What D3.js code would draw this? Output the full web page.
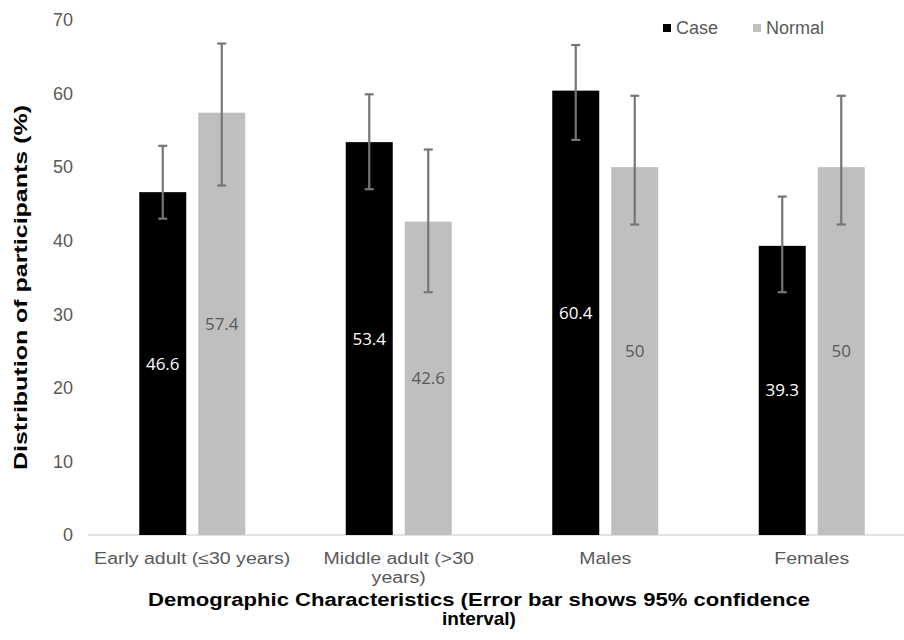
<!DOCTYPE html>
<html>
<head>
<meta charset="utf-8">
<script src="https://cdn.jsdelivr.net/npm/d3@7"></script>
<style>
  body { margin: 0; background: #fff; }
  svg { font-family: "Liberation Sans", Arial, sans-serif; }
</style>
</head>
<body>
<div id="chart"></div>
<script>
var categories = ['Early adult (≤30 years)', 'Middle adult (>30 years)', 'Males', 'Females'];
var series = ['Case', 'Normal'];
var caseValues = [46.6, 53.4, 60.4, 39.3];
var normalValues = [57.4, 42.6, 50, 50];
var caseLow = [43, 47, 53.7, 33];
var caseHigh = [52.9, 59.9, 66.6, 46];
var normalLow = [47.5, 33, 42.2, 42.2];
var normalHigh = [66.8, 52.4, 59.7, 59.7];
var valueLabels = [['46.6', '53.4', '60.4', '39.3'], ['57.4', '42.6', '50', '50']];
var yTicks = [0, 10, 20, 30, 40, 50, 60, 70];

var width = 904;
var height = 640;
var color = d3.scaleOrdinal().domain(series).range(['#000000', '#bfbfbf']);

var svg = d3.select('#chart')
    .append('svg')
    .attr('width', width)
    .attr('height', height);

var x = d3.scaleBand()
    .domain(categories)
    .range([89, 915])
    .paddingInner(0)
    .paddingOuter(0);

var y = d3.scaleLinear()
    .domain([0, 70])
    .range([535, 20]);

var barW = 47;
var gap = 12;

// one row per bar
var rows = [];
categories.forEach(function (c, i) {
    rows.push({cat: c, s: 'Case', si: 0, v: caseValues[i], lo: caseLow[i], hi: caseHigh[i], label: valueLabels[0][i]});
    rows.push({cat: c, s: 'Normal', si: 1, v: normalValues[i], lo: normalLow[i], hi: normalHigh[i], label: valueLabels[1][i]});
});

function barX(d) {
    var c = x(d.cat) + x.bandwidth() / 2;
    return d.si === 0 ? c - gap / 2 - barW : c + gap / 2;
}

// y axis labels
var yAxis = svg.append('g')
    .attr('transform', 'translate(73,0)')
    .call(d3.axisLeft(y).tickValues(yTicks).tickSize(0).tickPadding(0));
yAxis.select('.domain').remove();
yAxis.selectAll('text')
    .attr('fill', '#595959')
    .style('font-size', '18px')
    .style('font-family', '"Liberation Sans", Arial, sans-serif');

// baseline
svg.append('line')
    .attr('x1', 88).attr('x2', 904)
    .attr('y1', y(0)).attr('y2', y(0))
    .attr('stroke', '#d9d9d9')
    .attr('stroke-width', 1.5);

// bars
svg.selectAll('rect.bar')
    .data(rows)
    .enter()
    .append('rect')
    .attr('class', 'bar')
    .attr('x', barX)
    .attr('width', barW)
    .attr('y', function (d) { return y(d.v); })
    .attr('height', function (d) { return y(0) - y(d.v); })
    .attr('fill', function (d) { return color(d.s); });

// value labels in the middle of each bar
svg.selectAll('text.val')
    .data(rows)
    .enter()
    .append('text')
    .attr('class', 'val')
    .attr('x', function (d) { return barX(d) + barW / 2; })
    .attr('y', function (d) { return (y(0) + y(d.v)) / 2; })
    .attr('dy', '0.35em')
    .attr('text-anchor', 'middle')
    .style('font-family', '"Liberation Sans Narrow", "Open Sans", Arial, sans-serif')
    .style('font-size', '17px')
    .attr('fill', function (d) { return d.si === 0 ? '#ffffff' : '#595959'; })
    .text(function (d) { return d.label; });

// error bars
var err = svg.selectAll('g.err')
    .data(rows)
    .enter()
    .append('g')
    .attr('class', 'err')
    .attr('stroke', '#767676')
    .attr('stroke-width', 2.2);

err.append('line')
    .attr('x1', function (d) { return barX(d) + barW / 2; })
    .attr('x2', function (d) { return barX(d) + barW / 2; })
    .attr('y1', function (d) { return y(d.lo); })
    .attr('y2', function (d) { return y(d.hi); });

err.append('line')
    .attr('x1', function (d) { return barX(d) + barW / 2 - 4.5; })
    .attr('x2', function (d) { return barX(d) + barW / 2 + 4.5; })
    .attr('y1', function (d) { return y(d.hi); })
    .attr('y2', function (d) { return y(d.hi); });

err.append('line')
    .attr('x1', function (d) { return barX(d) + barW / 2 - 4.5; })
    .attr('x2', function (d) { return barX(d) + barW / 2 + 4.5; })
    .attr('y1', function (d) { return y(d.lo); })
    .attr('y2', function (d) { return y(d.lo); });

// category labels (wrap the long one), widened a bit like the original lettering
var catLines = {
    'Early adult (≤30 years)': ['Early adult (≤30 years)'],
    'Middle adult (>30 years)': ['Middle adult (>30', 'years)'],
    'Males': ['Males'],
    'Females': ['Females']
};
var catText = svg.selectAll('text.cat')
    .data(categories)
    .enter()
    .append('text')
    .attr('class', 'cat')
    .attr('text-anchor', 'middle')
    .attr('fill', '#595959')
    .style('font-size', '16px');
catText.each(function (c) {
    var t = d3.select(this);
    catLines[c].forEach(function (line, i) {
        var ts = t.append('tspan')
            .attr('x', x(c) + x.bandwidth() / 2)
            .attr('y', 564 + i * 18.5)
            .text(line);
        var w = ts.node().getComputedTextLength();
        ts.attr('textLength', w * 1.22).attr('lengthAdjust', 'spacingAndGlyphs');
    });
});

// axis titles (stretched a little, like the wide lettering in the original)
var xTitle = svg.append('g')
    .attr('font-weight', 'bold')
    .attr('fill', '#000')
    .style('font-size', '18px');
xTitle.append('text')
    .attr('x', 148).attr('y', 606)
    .attr('textLength', 662)
    .attr('lengthAdjust', 'spacingAndGlyphs')
    .text('Demographic Characteristics (Error bar shows 95% confidence');
xTitle.append('text')
    .attr('x', 479).attr('y', 625)
    .attr('text-anchor', 'middle')
    .style('font-size', '19px')
    .text('interval)');

svg.append('text')
    .attr('transform', 'translate(27,470) rotate(-90)')
    .attr('font-weight', 'bold')
    .attr('fill', '#000')
    .style('font-size', '19px')
    .attr('textLength', 365)
    .attr('lengthAdjust', 'spacingAndGlyphs')
    .text('Distribution of participants (%)');

// legend
var legend = svg.selectAll('g.leg')
    .data(series)
    .enter()
    .append('g')
    .attr('class', 'leg')
    .attr('transform', function (d, i) { return 'translate(' + (663 + i * 90) + ',28)'; });
legend.append('rect')
    .attr('x', 0).attr('y', -4)
    .attr('width', 8).attr('height', 8)
    .attr('fill', function (d) { return color(d); });
legend.append('text')
    .attr('x', 13)
    .attr('dy', '0.35em')
    .attr('fill', '#595959')
    .style('font-size', '18px')
    .text(function (d) { return d; });
</script>
</body>
</html>
